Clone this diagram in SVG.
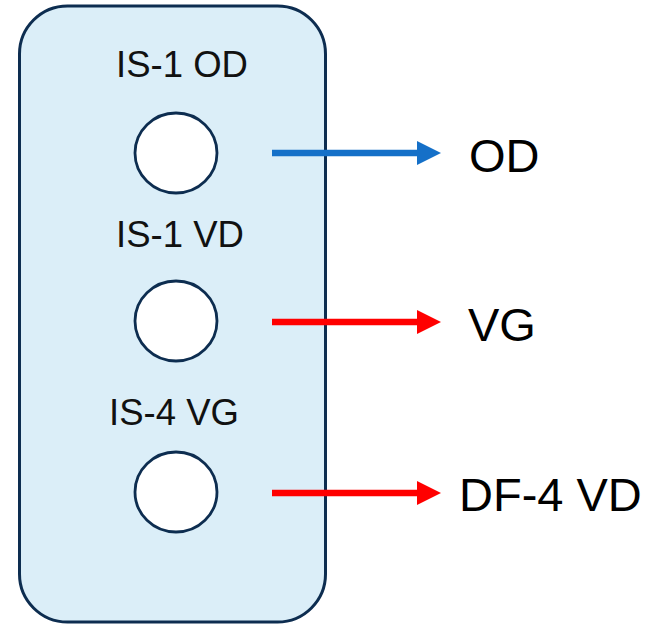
<svg xmlns="http://www.w3.org/2000/svg" width="655" height="626" viewBox="0 0 655 626">
<defs>
<style>
.panel{fill:#dbeef8;stroke:#0d2d50;stroke-width:3}
.port{fill:#ffffff;stroke:#0d2d50;stroke-width:2.8}
.lbl{font-family:"Liberation Sans",Arial,sans-serif;font-size:36.5px;fill:#111;text-anchor:middle}
.out{font-family:"Liberation Sans",Arial,sans-serif;font-size:47px;fill:#000}
.blue{stroke:#1570c8;stroke-width:6.5;fill:none}
.red{stroke:#ff0000;stroke-width:6.5;fill:none}
</style>
<marker id="ahBlue" markerUnits="userSpaceOnUse" markerWidth="24" markerHeight="24" refX="0" refY="12" orient="auto" viewBox="0 0 24 24">
<path d="M0,0 L24,12 L0,24 Z" fill="#1570c8"/>
</marker>
<marker id="ahRed" markerUnits="userSpaceOnUse" markerWidth="24" markerHeight="24" refX="0" refY="12" orient="auto" viewBox="0 0 24 24">
<path d="M0,0 L24,12 L0,24 Z" fill="#ff0000"/>
</marker>
</defs>
<g id="panel">
<rect class="panel" x="19.5" y="6" width="306" height="616" rx="48" ry="48"/>
</g>
<g id="port-is1-od">
<text class="lbl" x="182" y="77">IS-1 OD</text>
<ellipse class="port" cx="176" cy="153" rx="41" ry="40"/>
</g>
<g id="port-is1-vd">
<text class="lbl" x="180" y="247">IS-1 VD</text>
<ellipse class="port" cx="176" cy="321" rx="41" ry="40"/>
</g>
<g id="port-is4-vg">
<text class="lbl" x="174" y="425">IS-4 VG</text>
<ellipse class="port" cx="176" cy="492" rx="41" ry="40"/>
</g>
<g id="connectors">
<line class="blue" x1="272" y1="153" x2="417" y2="153" marker-end="url(#ahBlue)"/>
<line class="red" x1="272" y1="322" x2="417" y2="322" marker-end="url(#ahRed)"/>
<line class="red" x1="272" y1="493" x2="417" y2="493" marker-end="url(#ahRed)"/>
</g>
<g id="out-od"><text class="out" x="469" y="172">OD</text></g>
<g id="out-vg"><text class="out" x="468" y="341">VG</text></g>
<g id="out-df4vd"><text class="out" x="459" y="511">DF-4 VD</text></g>
</svg>
